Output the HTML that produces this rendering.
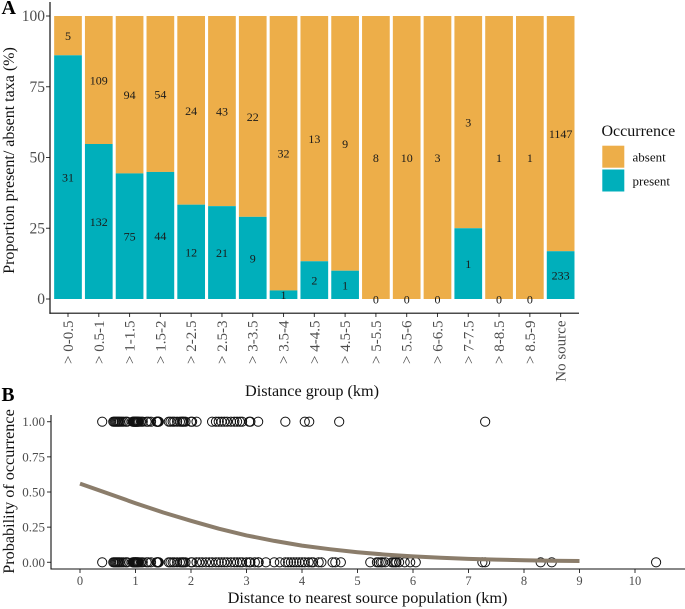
<!DOCTYPE html>
<html>
<head>
<meta charset="utf-8">
<title>Occurrence by distance to source population</title>
<style>
html,body{margin:0;padding:0;background:#fff;}
svg{display:block;font-family:"Liberation Serif",serif;}
</style>
</head>
<body>
<svg id="fig" xmlns="http://www.w3.org/2000/svg" width="685" height="609" viewBox="0 0 685 609">
  <rect x="0" y="0" width="685" height="609" fill="#fff"/>
  <text x="1.5" y="14" font-size="20" font-weight="bold">A</text>
  <text x="1.5" y="401" font-size="19.5" font-weight="bold">B</text>
  <text transform="translate(14,160.5) rotate(-90)" text-anchor="middle" font-size="16" fill="#111">Proportion present/ absent taxa (%)</text>
  <text x="312" y="396" text-anchor="middle" font-size="16.2" fill="#111">Distance group (km)</text>
  <text transform="translate(14,491.5) rotate(-90)" text-anchor="middle" font-size="16.2" fill="#111">Probability of occurrence</text>
  <text x="367.5" y="603" text-anchor="middle" font-size="16.3" fill="#111">Distance to nearest source population (km)</text>
  <g>
    <text x="601.5" y="136" font-size="16" fill="#111">Occurrence</text>
    <rect x="602.3" y="145.7" width="22" height="22" fill="#edae49"/>
    <rect x="602.3" y="169.5" width="22" height="22" fill="#00afbb"/>
    <text x="632.5" y="161.5" font-size="13" fill="#111">absent</text>
    <text x="632.5" y="185.5" font-size="13" fill="#111">present</text>
  </g>
  <g id="panelA"></g>
  <g id="panelB"></g>
</svg>
<script>
var groups = ["> 0-0.5","> 0.5-1","> 1-1.5","> 1.5-2","> 2-2.5","> 2.5-3","> 3-3.5","> 3.5-4","> 4-4.5","> 4.5-5","> 5-5.5","> 5.5-6","> 6-6.5","> 7-7.5","> 8-8.5","> 8.5-9","No source"];
var presentCounts = [31,132,75,44,12,21,9,1,2,1,0,0,0,1,0,0,233];
var absentCounts = [5,109,94,54,24,43,22,32,13,9,8,10,3,3,1,1,1147];
var yTicksA = [0,25,50,75,100];

var xTicksB = [0,1,2,3,4,5,6,7,8,9,10];
var yTicksB = ["0.00","0.25","0.50","0.75","1.00"];
var curveX = [0,0.5,1,1.5,2,2.5,3,3.5,4,4.5,5,5.5,6,6.5,7,7.5,8,8.5,9];
var curveP = [0.56,0.49,0.42,0.354,0.295,0.239,0.191,0.152,0.119,0.093,0.072,0.055,0.042,0.032,0.0245,0.019,0.014,0.011,0.009];
var occurrenceDistances = [0.4,0.6,0.62,0.64,0.66,0.68,0.7,0.72,0.75,0.78,0.82,0.85,0.95,0.96,0.97,0.98,0.99,1.0,1.0,1.01,1.02,1.03,1.04,1.05,1.07,1.1,1.13,1.2,1.23,1.28,1.38,1.39,1.4,1.4,1.41,1.42,1.6,1.63,1.67,1.7,1.75,1.8,1.83,1.85,1.87,1.9,2.0,2.02,2.1,2.38,2.45,2.5,2.55,2.6,2.65,2.72,2.78,2.83,2.88,2.92,3.05,3.07,3.21,3.7,4.05,4.13,4.67,7.3];
var absenceDistances = [0.4,0.6,0.62,0.64,0.66,0.68,0.7,0.72,0.75,0.78,0.82,0.85,0.95,0.96,0.97,0.98,0.99,1.0,1.0,1.01,1.02,1.03,1.04,1.05,1.07,1.1,1.13,1.2,1.23,1.28,1.38,1.39,1.4,1.4,1.41,1.42,1.6,1.63,1.67,1.7,1.75,1.8,1.83,1.85,1.87,1.9,2.0,2.02,2.1,2.15,2.2,2.27,2.33,2.38,2.45,2.5,2.55,2.6,2.65,2.72,2.78,2.83,2.88,2.92,3.0,3.05,3.07,3.15,3.21,3.22,3.35,3.5,3.6,3.7,3.75,3.8,3.85,3.9,3.95,4.0,4.05,4.12,4.17,4.2,4.3,4.35,4.55,4.6,4.7,5.23,5.35,5.38,5.42,5.45,5.5,5.62,5.65,5.68,5.7,5.75,5.85,5.95,6.05,7.25,7.3,8.3,8.5,10.38];

var NS = "http://www.w3.org/2000/svg";
function mk(parent, tag, attrs, txt){
  var e = document.createElementNS(NS, tag);
  for (var k in attrs) e.setAttribute(k, attrs[k]);
  if (txt !== undefined) e.textContent = txt;
  parent.appendChild(e);
  return e;
}
var A = document.getElementById("panelA");
var B = document.getElementById("panelB");
var gray = "#4d4d4d";

/* Panel A scales */
function xA(i){ return 68 + i * 30.79; }
function yA(v){ return 299 - v * 2.83; }
var barW = 27.7;

groups.forEach(function(g, i){
  var total = presentCounts[i] + absentCounts[i];
  var pct = 100 * presentCounts[i] / total;
  var x = xA(i) - barW / 2;
  var r1 = mk(A, "rect", {x:x, y:yA(100), width:barW, height:yA(pct)-yA(100), fill:"#edae49"});
  
  
  if (pct > 0) {
    var r2 = mk(A, "rect", {x:x, y:yA(pct), width:barW, height:yA(0)-yA(pct), fill:"#00afbb"});
    
    
  }
});
groups.forEach(function(g, i){
  var total = presentCounts[i] + absentCounts[i];
  var pct = 100 * presentCounts[i] / total;
  var t1 = mk(A, "text", {x:xA(i), y:yA((pct+100)/2)+4.5, "text-anchor":"middle", "font-size":12, fill:"#1a1a1a"}, absentCounts[i]);
  
  
  var t2 = mk(A, "text", {x:xA(i), y:yA(pct/2)+4.5, "text-anchor":"middle", "font-size":12, fill:"#1a1a1a"}, presentCounts[i]);
  
  
  var tick = mk(A, "line", {x1:xA(i), x2:xA(i), y1:313, y2:317, stroke:"#333", "stroke-width":1});
  
  
  var lab = mk(A, "text", {transform:"translate("+(xA(i)+5)+",320.5) rotate(-90)", "text-anchor":"end", "font-size":15, fill:gray}, g);
  
  
});
yTicksA.forEach(function(v){
  var tick = mk(A, "line", {x1:46, x2:50, y1:yA(v), y2:yA(v), stroke:"#333", "stroke-width":1});
  
  
  var lab = mk(A, "text", {x:45, y:yA(v)+5, "text-anchor":"end", "font-size":15.5, fill:gray}, v);
  
  
});
var axAY = mk(A, "line", {x1:50, x2:50, y1:2, y2:313.7, stroke:"#111", "stroke-width":1.2});


var axAX = mk(A, "line", {x1:49.4, x2:579, y1:313.2, y2:313.2, stroke:"#111", "stroke-width":1.2});



/* Panel B scales */
function xB(v){ return 80 + v * 55.5; }
function yB(p){ return 562.3 - p * 140.6; }

xTicksB.forEach(function(v){
  var tick = mk(B, "line", {x1:xB(v), x2:xB(v), y1:569, y2:573, stroke:"#333", "stroke-width":1});
  
  
  var lab = mk(B, "text", {x:xB(v), y:585, "text-anchor":"middle", "font-size":12.5, fill:gray}, v);
  
  
});
yTicksB.forEach(function(s){
  var v = parseFloat(s);
  var tick = mk(B, "line", {x1:47, x2:51, y1:yB(v), y2:yB(v), stroke:"#333", "stroke-width":1});
  
  
  var lab = mk(B, "text", {x:45, y:yB(v)+4.5, "text-anchor":"end", "font-size":13, fill:gray}, s);
  
  
});
occurrenceDistances.forEach(function(d){
  var c = mk(B, "circle", {cx:xB(d), cy:yB(1), r:4.6, fill:"none", stroke:"#111", "stroke-width":1});
  
  
});
absenceDistances.forEach(function(d){
  var c = mk(B, "circle", {cx:xB(d), cy:yB(0), r:4.6, fill:"none", stroke:"#111", "stroke-width":1});
  
  
});
var pts = curveX.map(function(x, i){ return xB(x).toFixed(1) + "," + yB(curveP[i]).toFixed(1); }).join(" ");
var fit = mk(B, "polyline", {points:pts, fill:"none", stroke:"#8b7d6b", "stroke-width":4, "stroke-linejoin":"round"});


var axBY = mk(B, "line", {x1:51, x2:51, y1:415, y2:569.5, stroke:"#111", "stroke-width":1.1});


var axBX = mk(B, "line", {x1:50.5, x2:685, y1:569, y2:569, stroke:"#111", "stroke-width":1.1});


</script>
</body>
</html>
